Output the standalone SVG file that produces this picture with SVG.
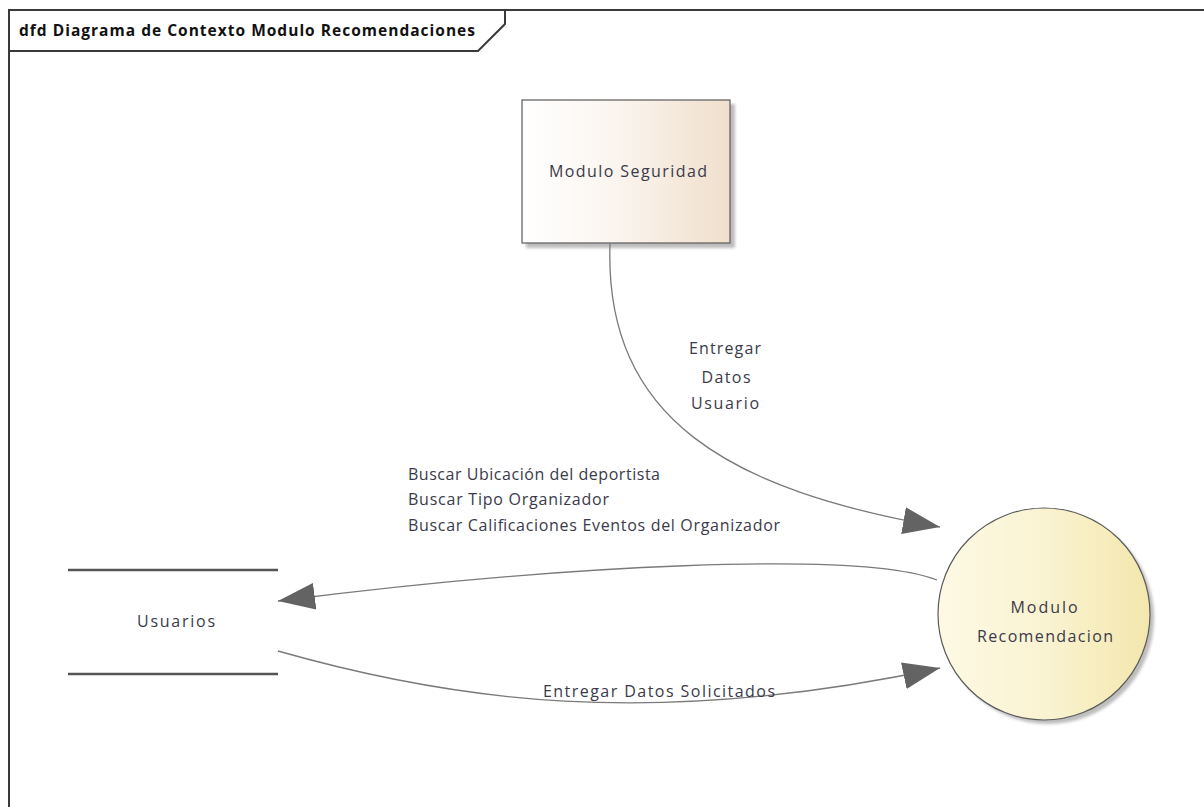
<svg xmlns="http://www.w3.org/2000/svg" width="1204" height="807" viewBox="0 0 1204 807">
  <defs>
    <linearGradient id="gradEntity" x1="0" y1="0" x2="1" y2="0">
      <stop offset="0" stop-color="#ffffff"/>
      <stop offset="0.45" stop-color="#fbf5ef"/>
      <stop offset="1" stop-color="#f0dfcc"/>
    </linearGradient>
    <linearGradient id="gradProcess" x1="0" y1="0" x2="1" y2="0">
      <stop offset="0" stop-color="#fdf9e4"/>
      <stop offset="0.5" stop-color="#faf3d2"/>
      <stop offset="1" stop-color="#f3e7ad"/>
    </linearGradient>
    <filter id="soft" x="-10%" y="-10%" width="130%" height="130%">
      <feGaussianBlur stdDeviation="1.5"/>
    </filter>
    <marker id="arrow" viewBox="0 0 37 27" refX="37" refY="13.5" markerWidth="37" markerHeight="27" markerUnits="userSpaceOnUse" orient="auto">
      <path d="M0,0 L37,13.5 L0,27 Z" fill="#636363"/>
    </marker>
  </defs>
  <style>
    .frame { fill: none; stroke: #3a3a3a; stroke-width: 2; }
    .title { font-family: "Open Sans", "Liberation Sans", sans-serif; font-weight: bold; font-size: 15.5px; fill: #111; }
    .lbl { font-family: "Open Sans", "Noto Sans", sans-serif; font-size: 16px; fill: #3a3a4a; }
    .flow { fill: none; stroke: #7a7a7a; stroke-width: 1.3; marker-end: url(#arrow); }
    .storeLine { stroke: #555; stroke-width: 2.5; }
    .shadow { fill: #bdbdbd; filter: url(#soft); }
  </style>

  <rect x="0" y="0" width="1204" height="807" fill="#ffffff"/>

  <!-- diagram frame with its name tab -->
  <g id="frame">
    <rect class="frame" x="9" y="10" width="1300" height="900"/>
    <polyline class="frame" points="9,51 478,51 505,24 505,10"/>
    <text class="title" x="19" y="36" textLength="456">dfd Diagrama de Contexto Modulo Recomendaciones</text>
  </g>

  <!-- external entity -->
  <g id="modulo-seguridad">
    <rect class="shadow" x="526" y="104" width="209" height="144"/>
    <rect x="522" y="100" width="208" height="143" fill="url(#gradEntity)" stroke="#5a5a5a" stroke-width="1.2"/>
    <text class="lbl" x="628" y="177" text-anchor="middle" textLength="158">Modulo Seguridad</text>
  </g>

  <!-- process -->
  <g id="modulo-recomendacion">
    <circle class="shadow" cx="1048" cy="618" r="106"/>
    <circle cx="1044" cy="614" r="106" fill="url(#gradProcess)" stroke="#5a5a5a" stroke-width="1.2"/>
    <text class="lbl" x="1044" y="613" text-anchor="middle" textLength="67">Modulo</text>
    <text class="lbl" x="1045" y="642" text-anchor="middle" textLength="136">Recomendacion</text>
  </g>

  <!-- data store -->
  <g id="usuarios">
    <line class="storeLine" x1="68" y1="570" x2="278" y2="570"/>
    <line class="storeLine" x1="68" y1="674" x2="278" y2="674"/>
    <text class="lbl" x="176" y="627" text-anchor="middle" textLength="78">Usuarios</text>
  </g>

  <!-- data flows -->
  <g id="connectors">
    <path class="flow" d="M610,244 C604,420 730,490 940,527"/>
    <path class="flow" d="M937,580 C860,550 560,565 278,601"/>
    <path class="flow" d="M278,651 C450,700 650,730 940,668"/>

    <g class="lbl">
      <text x="725" y="354" text-anchor="middle" textLength="72">Entregar</text>
      <text x="726" y="383" text-anchor="middle" textLength="49">Datos</text>
      <text x="725" y="409" text-anchor="middle" textLength="68">Usuario</text>

      <text x="408" y="480" textLength="252">Buscar Ubicación del deportista</text>
      <text x="408" y="505" textLength="201">Buscar Tipo Organizador</text>
      <text x="408" y="531" textLength="372">Buscar Calificaciones Eventos del Organizador</text>

      <text x="543" y="697" textLength="232">Entregar Datos Solicitados</text>
    </g>
  </g>
</svg>
